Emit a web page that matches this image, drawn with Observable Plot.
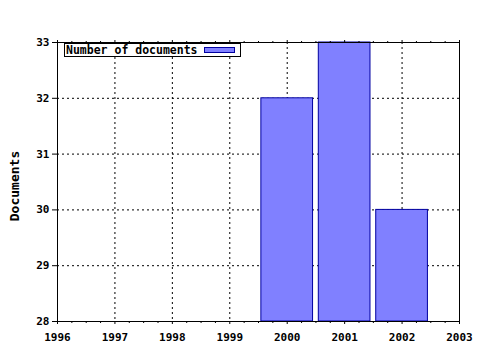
<!DOCTYPE html>
<html>
<head>
<meta charset="utf-8">
<script src="https://cdn.jsdelivr.net/npm/d3@7"></script>
<script src="https://cdn.jsdelivr.net/npm/@observablehq/plot@0.6"></script>
<style>
  html, body { margin: 0; padding: 0; background: #fff; }
  #wrap { position: relative; width: 480px; height: 350px; }
  #legend {
    position: absolute; left: 64px; top: 43px; width: 175px; height: 12px;
    border: 1px solid #000; background: #fff;
    font: bold 11.5px "DejaVu Sans Mono", monospace; line-height: 12px;
  }
  #legend span.t { position: absolute; left: 1px; top: 0; }
  #legend span.s { position: absolute; left: 139px; top: 3px; width: 29px; height: 4px;
    background: #8080ff; border: 1px solid #0000a0; }
</style>
</head>
<body>
<div id="wrap"></div>
<script>
const years = [2000, 2001, 2002];
const documents = [32, 33, 30];
const xTicks = [1996, 1997, 1998, 1999, 2000, 2001, 2002, 2003];
const yTicks = [28, 29, 30, 31, 32, 33];
const seriesName = "Number of documents";
const yTitle = "Documents";

const data = years.map((y, i) => ({year: y, value: documents[i]}));
const xMinor = d3.range(1996, 2003.001, 0.25).filter(v => !xTicks.includes(v));
const gridX = xTicks.slice(1, -1);
const gridY = yTicks.slice(1, -1);

const chart = Plot.plot({
  width: 480,
  height: 350,
  marginLeft: 57,
  marginRight: 21,
  marginTop: 42,
  marginBottom: 29,
  style: {fontFamily: "'DejaVu Sans Mono', monospace", fontSize: "11px", fontWeight: "bold", background: "#fff", color: "#000"},
  x: {type: "linear", domain: [1996, 2003]},
  y: {domain: [28, 33]},
  marks: [
    Plot.gridX(gridX, {stroke: "#000", strokeOpacity: 1, strokeDasharray: "2,3"}),
    Plot.gridY(gridY, {stroke: "#000", strokeOpacity: 1, strokeDasharray: "2,3"}),
    Plot.rectY(data, {x1: d => d.year - 0.45, x2: d => d.year + 0.45, y1: 28, y2: "value", fill: "#8080ff", stroke: "#0000a0", strokeWidth: 1}),
    Plot.frame({stroke: "#000"}),
    Plot.axisX(xTicks, {anchor: "bottom", tickSize: 3, tickPadding: 9, tickFormat: d => String(d), label: null}),
    Plot.axisX(xMinor, {anchor: "bottom", tickSize: 2, tickFormat: () => "", label: null}),
    Plot.axisX(xTicks, {anchor: "top", tickSize: 3, tickFormat: () => "", label: null}),
    Plot.axisX(xMinor, {anchor: "top", tickSize: 2, tickFormat: () => "", label: null}),
    Plot.axisY(yTicks, {anchor: "left", tickSize: 5, tickPadding: 3, tickFormat: d => String(d), label: null}),
    Plot.text([yTitle], {frameAnchor: "left", textAnchor: "middle", rotate: -90, dx: -43, dy: 4, text: d => d, fontSize: 13, fontWeight: "bold"})
  ]
});

const wrap = document.getElementById("wrap");
wrap.appendChild(chart);
const legend = document.createElement("div");
legend.id = "legend";
legend.innerHTML = `<span class="t"></span><span class="s"></span>`;
legend.querySelector(".t").textContent = seriesName;
wrap.appendChild(legend);
</script>
</body>
</html>
